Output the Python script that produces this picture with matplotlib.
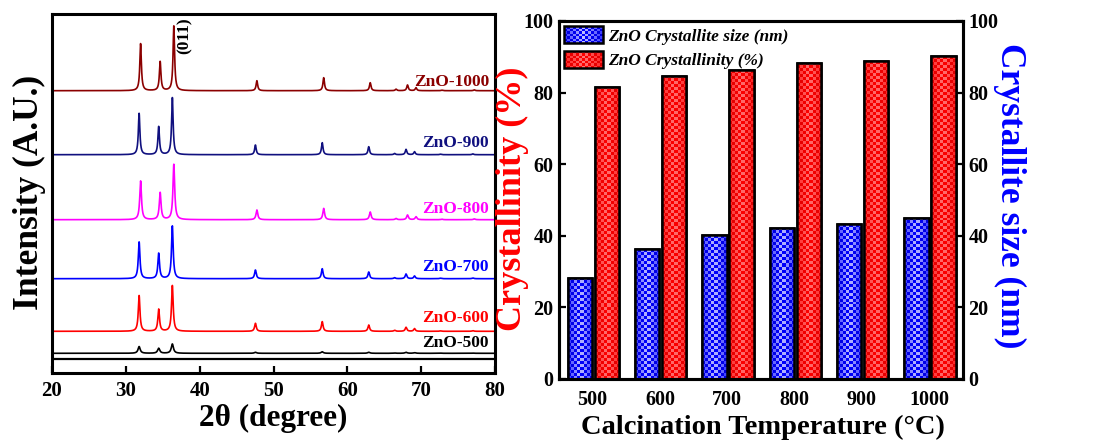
import numpy as np
import matplotlib
matplotlib.use("Agg")
import matplotlib.pyplot as plt
from matplotlib.patches import Rectangle
from matplotlib.collections import PatchCollection
from matplotlib.legend_handler import HandlerBase

# ---------------- data ----------------
# XRD peak list (2theta, degrees) read from the patterns
peak_pos = [31.8, 34.45, 36.3, 47.55, 56.6, 62.9, 66.4, 67.95, 69.1, 72.6, 77.0]
samples = ["ZnO-1000", "ZnO-900", "ZnO-800", "ZnO-700", "ZnO-600", "ZnO-500"]
sample_colors = ["#8B0000", "#10107F", "#FF00FF", "#0000FF", "#FF0000", "#000000"]
peak_shift = [0.2, 0.0, 0.2, 0.0, 0.0, 0.0]
peak_fwhm = [0.25, 0.25, 0.28, 0.27, 0.27, 0.35]
h_1000 = [47, 29, 64.7, 10, 13, 8, 1.5, 5.7, 3, 0.5, 0.8]
h_900 = [41.3, 28, 57, 9.7, 12, 8, 1.2, 5.3, 3, 0.5, 0.8]
h_800 = [38.7, 27, 55.3, 9.7, 11.3, 7.7, 1.2, 4.7, 3, 0.5, 0.8]
h_700 = [36.7, 25.3, 52.7, 8.7, 10, 6.7, 1.0, 4.7, 2.7, 0.5, 0.7]
h_600 = [35.7, 22, 45.7, 8, 9.7, 6.3, 1.0, 4.0, 2.7, 0.4, 0.6]
h_500 = [6.7, 5, 9.3, 1.0, 1.5, 1.0, 0.3, 1.0, 0.6, 0.2, 0.2]
peak_heights = [h_1000, h_900, h_800, h_700, h_600, h_500]
offsets = [282.3, 218.3, 153.3, 94.3, 41.7, 19.7]
label_y = [291.3, 229.7, 164.0, 106.3, 54.7, 29.7]

temps = ["500", "600", "700", "800", "900", "1000"]
crystallite_size = [28.3, 36.2, 40.1, 42.2, 43.2, 45.1]
crystallinity = [81.6, 84.7, 86.3, 88.4, 88.8, 90.2]

# ---------------- style ----------------
plt.rcParams["font.family"] = ["Liberation Serif", "DejaVu Serif"]
plt.rcParams["font.weight"] = "bold"
plt.rcParams["mathtext.default"] = "regular"

fig = plt.figure(figsize=(10.96, 4.41), dpi=100)
W, H = 1096.0, 441.0

# ---------------- left: XRD ----------------
axL = fig.add_axes([52 / W, (H - 373) / H, (495 - 52) / W, (373 - 14) / H])
x = np.arange(20, 80.0001, 0.01)
for name, col, sh, fw, hts, off in zip(samples, sample_colors, peak_shift, peak_fwhm, peak_heights, offsets):
    y = np.zeros_like(x)
    g = fw / 2.0
    for p, hh in zip(peak_pos, hts):
        y += hh * g**2 / ((x - (p + sh))**2 + g**2)
    axL.plot(x, y + off, color=col, lw=1.2)
for name, col, ly in zip(samples, sample_colors, label_y):
    axL.text(79.2, ly, name, color=col, fontsize=12.5, ha="right", va="center", fontweight="bold")
axL.axhline(13.7, color="black", lw=1.6)
axL.text(38.0, 337.5, "(011)", rotation=90, fontsize=12.5, ha="center", va="center", fontweight="bold")
axL.set_xlim(20, 80)
axL.set_ylim(0, 359)
axL.set_xticks(np.arange(20, 81, 10))
axL.set_yticks([])
axL.tick_params(axis="x", direction="in", length=5, width=1.6, labelsize=15, pad=6)
for s in axL.spines.values():
    s.set_linewidth(2.2)
fig.text(273 / W, 1 - 418 / H, "2θ (degree)", fontsize=22.5, ha="center", va="center", fontweight="bold")
fig.text(29 / W, 1 - 192 / H, "Intensity (A.U.)", fontsize=25.5, ha="center", va="center",
         rotation=90, fontweight="bold")

# ---------------- right: bars ----------------
axR = fig.add_axes([559 / W, (H - 379) / H, (963 - 559) / W, (379 - 21) / H])
ax2 = axR.twinx()
idx = np.arange(len(temps))
bw = 0.36
px_per_x = (963 - 559) / 6.0
px_per_y = (379 - 21) / 100.0

blue = np.array([0.0, 0.0, 1.0])
red = np.array([1.0, 0.0, 0.0])
white = np.array([1.0, 1.0, 1.0])


def checker_color(base, light_lo, light_hi, u, parity):
    f = 1 - abs(2 * u - 1)
    if parity:
        return base * (0.85 + 0.15 * f)
    a = light_lo + (light_hi - light_lo) * f
    return base * (1 - a) + white * a


def checker_image(base, light_lo, light_hi, nx, ny):
    img = np.zeros((ny, nx, 3))
    for j in range(nx):
        u = (j + 0.5) / nx
        for i in range(ny):
            img[i, j] = checker_color(base, light_lo, light_hi, u, (i + j) % 2)
    return img


def fill_checker(ax, bars, base, lo, hi):
    for b in bars:
        x0, w, h = b.get_x(), b.get_width(), b.get_height()
        nx = max(1, int(round(w * px_per_x / 3.0)))
        ny = max(1, int(round(h * px_per_y / 3.0)))
        img = checker_image(base, lo, hi, nx, ny)
        im = ax.imshow(img, extent=(x0, x0 + w, 0, h), origin="lower", aspect="auto",
                       interpolation="nearest", zorder=2)
        im.set_clip_path(b)


bars_red = axR.bar(idx + 0.21, crystallinity, bw, facecolor="red", edgecolor="black", lw=1.8, zorder=1)
bars_blue = ax2.bar(idx - 0.19, crystallite_size, bw, facecolor="blue", edgecolor="black", lw=1.8, zorder=1)
fill_checker(axR, bars_red, red, 0.12, 0.45)
fill_checker(ax2, bars_blue, blue, 0.2, 0.75)
# redraw edges on top
for b in bars_red:
    axR.add_patch(Rectangle((b.get_x(), 0), b.get_width(), b.get_height(), fc="none", ec="black", lw=1.8, zorder=3))
for b in bars_blue:
    ax2.add_patch(Rectangle((b.get_x(), 0), b.get_width(), b.get_height(), fc="none", ec="black", lw=1.8, zorder=3))

for a in (axR, ax2):
    a.set_xlim(-0.5, 5.5)
    a.set_ylim(0, 100)
    a.set_yticks(np.arange(0, 101, 20))
    for s in a.spines.values():
        s.set_linewidth(2.2)
axR.set_xticks(idx)
axR.set_xticklabels(temps)
axR.tick_params(axis="x", length=0, labelsize=14.5, pad=8)
axR.tick_params(axis="y", direction="in", length=5, width=1.6, labelsize=14.5, pad=4)
ax2.tick_params(axis="y", direction="in", length=5, width=1.6, labelsize=14.5, pad=4)

fig.text(763 / W, 1 - 427 / H, "Calcination Temperature (°C)", fontsize=20.5, ha="center", va="center",
         fontweight="bold")
fig.text(512 / W, 1 - 199 / H, "Crystallinity (%)", fontsize=26, ha="center", va="center",
         rotation=90, color="red", fontweight="bold")
fig.text(1010 / W, 1 - 196 / H, "Crystallite size (nm)", fontsize=25.5, ha="center", va="center",
         rotation=270, color="blue", fontweight="bold")


class HandlerChecker(HandlerBase):
    def __init__(self, base, lo, hi):
        super().__init__()
        self.base, self.lo, self.hi = base, lo, hi

    def create_artists(self, legend, orig_handle, xdescent, ydescent, width, height, fontsize, trans):
        x0, y0 = -xdescent, -ydescent
        nx, ny = 13, 7
        cw, ch = width / nx, height / ny
        rects, cols = [], []
        for j in range(nx):
            u = (j + 0.5) / nx
            for i in range(ny):
                rects.append(Rectangle((x0 + j * cw, y0 + i * ch), cw, ch))
                cols.append(checker_color(self.base, self.lo, self.hi, u, (i + j) % 2))
        pc = PatchCollection(rects, facecolors=cols, edgecolors="none", transform=trans)
        border = Rectangle((x0, y0), width, height, fc="none", ec="black", lw=1.8, transform=trans)
        return [pc, border]


hb = Rectangle((0, 0), 1, 1, fc="blue")
hr = Rectangle((0, 0), 1, 1, fc="red")
leg = ax2.legend([hb, hr], ["ZnO Crystallite size (nm)", "ZnO Crystallinity (%)"],
                 handler_map={hb: HandlerChecker(blue, 0.2, 0.75), hr: HandlerChecker(red, 0.12, 0.45)},
                 loc="upper left", bbox_to_anchor=(0.0, 1.0), frameon=False, borderaxespad=0.1,
                 borderpad=0.2, handlelength=2.25, handleheight=1.15, handletextpad=0.3,
                 labelspacing=0.35, prop={"family": "Liberation Serif", "style": "italic",
                                          "weight": "bold", "size": 12.5})
leg.set_zorder(10)

fig.savefig("out.png", dpi=100)
